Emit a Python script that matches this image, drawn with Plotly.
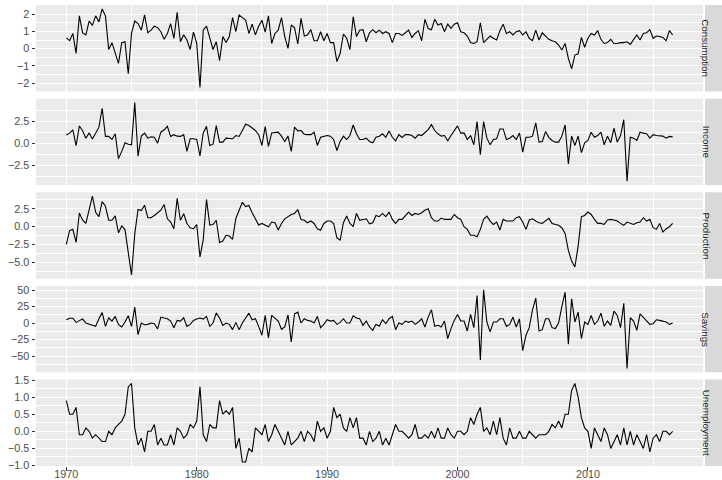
import plotly.graph_objects as go
from plotly.subplots import make_subplots

start_year = 1970
quarters_per_year = 4

consumption = [
    0.62, 0.46, 0.88, -0.27, 1.9, 0.91, 0.8, 1.6, 1.35, 1.9,
    1.55, 2.3, 1.9, -0.05, 0.35, -0.3, -0.85, 0.35, 0.4, -1.45,
    0.9, 1.6, 1.45, 1.07, 1.95, 0.92, 1.07, 1.3, 1.22, 0.98,
    0.55, 0.88, 1.45, 0.6, 2.1, 0.4, 0.8, 0.5, -0.05, 0.96,
    0.3, -2.25, 1.07, 1.3, 0.6, -0.05, 0.4, -0.7, 0.7, 0.35,
    0.7, 1.8, 0.98, 1.95, 1.8, 1.65, 0.88, 1.42, 0.8, 1.3,
    1.65, 0.96, 1.9, 0.3, 0.88, 1.07, 1.8, 0.7, 0.02, 1.37,
    1.22, 0.27, 1.75, 0.73, 0.8, 1.1, 0.46, 0.46, 0.98, 0.46,
    0.88, 0.35, 0.35, -0.75, -0.27, 0.85, 0.6, -0.05, 1.85, 0.7,
    1.07, 1.1, 0.4, 0.92, 1.1, 0.92, 1.07, 0.88, 0.98, 0.88,
    0.35, 0.88, 0.88, 0.77, 0.92, 1.07, 0.65, 0.88, 1.04, 0.46,
    1.7, 1.17, 1.1, 1.7, 1.37, 1.46, 0.98, 1.42, 1.17, 1.42,
    1.5, 0.98, 0.92, 0.73, 0.35, 0.3, 0.4, 1.5, 0.35, 0.54,
    0.73, 0.6, 0.5, 1.04, 1.42, 0.88, 0.98, 0.79, 0.98, 1.04,
    0.79, 0.98, 0.6, 0.46, 1.07, 0.5, 0.92, 0.73, 0.54, 0.46,
    0.4, 0.21, -0.08, 0.3, -0.56, -1.17, -0.37, -0.3, 0.65, 0.08,
    0.6, 0.88, 0.79, 1.04, 0.54, 0.3, 0.35, 0.54, 0.3, 0.3,
    0.35, 0.35, 0.4, 0.25, 0.5, 0.79, 0.5, 0.88, 0.92, 1.1,
    0.6, 0.73, 0.7, 0.65, 0.46, 1.04, 0.79,
]

income = [
    0.97, 1.17, 1.55, -0.26, 1.99, 1.45, 0.6, 1.2, 0.5, 1.1,
    1.85, 4.0, 0.8, 0.8, 0.45, 1.1, -1.73, -0.9, 0.07, -0.1,
    -0.15, 4.65, -1.45, 0.83, 1.17, 0.6, 0.75, 0.7, 0.03, 1.28,
    1.55, 1.95, 0.8, 1.0, 0.83, 0.8, 1.0, -0.9, 0.53, 0.53,
    0.45, -1.43, 1.2, 1.95, -0.23, -0.08, 2.03, 0.15, 0.15, 0.6,
    0.6, 0.53, 0.9, 0.8, 1.47, 2.18, 2.03, 1.73, 1.47, 1.0,
    -0.23, 1.92, -0.34, 1.2, 1.28, 1.28, 0.83, 0.23, 0.83, -0.9,
    1.85, 1.43, 1.47, 1.05, 1.0, 1.0, 1.28, -0.23, 0.7, 0.83,
    0.9, 0.83, 0.45, -0.8, 0.23, 0.83, 0.45, 0.9, 2.1, 1.1,
    0.45, 0.45, 0.6, 0.23, 0.08, 0.7, 0.83, 1.1, 0.7, 1.43,
    0.7, 0.3, 1.0, 0.68, 1.0, 1.0, 0.9, 0.6, 1.0, 0.9,
    1.28, 1.58, 2.14, 1.47, 1.1, 0.83, 0.9, 0.3, 0.9, 1.47,
    2.0, 1.17, 1.2, 0.45, 0.9, -0.15, 2.48, -1.28, 2.48, 0.6,
    -0.15, 0.45, 0.53, 1.65, 1.65, 0.45, 0.6, 0.9, 0.45, 1.2,
    -0.98, 0.7, 0.7, 0.83, 2.33, 0.15, 0.23, 1.35, 0.7, 0.34,
    0.15, 0.15, 0.83, 2.1, -2.33, 0.83, -0.23, 0.83, -1.05, 0.08,
    0.34, 1.28, 0.7, 0.9, 1.28, -0.15, 0.83, 0.08, 1.73, 0.15,
    0.9, 2.7, -4.29, 0.7, 0.6, 0.34, 1.28, 1.17, 1.1, 0.6,
    1.0, 0.9, 0.83, 0.83, 0.6, 0.8, 0.75,
]

production = [
    -2.45, -0.55, -0.36, -2.19, 1.91, 0.9, 0.45, 2.3, 4.25, 2.0,
    1.4, 3.5, 2.85, 0.9, 0.9, 1.5, -0.85, 0.1, -0.4, -3.6,
    -6.7, -1.0, 2.4, 2.25, 3.0, 1.25, 1.25, 1.57, 1.95, 2.3,
    3.1, 1.1, 0.65, -0.28, 3.95, 0.9, 1.8, 0.45, -0.15, -0.28,
    0.3, -4.2, -1.8, 3.8, 0.23, 0.3, 0.9, -2.2, -2.0, -1.2,
    -1.3, -1.75, 1.15, 2.2, 3.4, 2.8, 2.95, 1.95, 1.0, 0.23,
    0.45, 0.23, 0.0, 0.65, 0.55, -0.45, 0.45, 1.1, 1.4, 1.7,
    1.85, 2.4, 1.0, 0.9, 0.55, 0.8, 0.45, -0.28, -0.5, 0.45,
    0.8, 0.8, 0.45, -1.55, -1.85, 0.55, 1.5, 0.45, 0.0, 1.85,
    0.9, 1.0, 1.1, 0.4, 0.55, 1.57, 1.4, 1.85, 1.39, 2.04,
    1.02, 0.46, 1.02, 1.02, 1.48, 2.04, 1.57, 1.85, 1.7, 1.94,
    2.3, 2.5, 1.25, 0.79, 0.79, 1.2, 1.02, 1.02, 1.02, 1.7,
    1.25, 1.02, 0.0, -0.37, -1.2, -1.2, -1.39, -0.37, 1.02, 1.48,
    0.79, 0.32, 0.65, -0.46, 1.02, 0.79, 0.79, 0.79, 1.25, 1.39,
    0.65, -0.37, 0.93, 1.11, 0.79, 0.56, 0.46, 0.83, 1.16, 0.46,
    0.32, 0.19, -0.14, -0.93, -3.3, -4.77, -5.6, -2.7, 1.39, 1.57,
    2.04, 1.7, 1.02, 0.46, 0.46, 0.32, 0.93, 1.02, 0.93, 0.79,
    0.46, 0.19, 0.65, 0.46, 0.32, 0.56, 0.65, 1.25, 0.79, 1.02,
    -0.14, -0.37, 0.46, -0.74, -0.28, 0.0, 0.46,
]

savings = [
    4.8, 7.29, 7.29, 0.99, 3.66, 6.05, 0.0, -2.0, -4.0, -5.0,
    6.5, 16.0, -5.0, 8.0, 3.0, 10.0, -2.0, -6.0, 1.5, 11.0,
    -5.0, 24.0, -17.5, 0.0, -2.5, -2.0, 0.0, -1.0, -9.0, 9.0,
    7.5, 6.5, 3.0, -7.0, 4.0, 3.0, 8.0, -5.0, -2.0, 4.0,
    6.0, 7.5, 6.0, 10.0, -5.0, 0.0, 15.5, 7.5, -3.5, 0.0,
    -2.0, -10.0, 1.0, -10.0, 0.0, 8.0, 15.0, 5.0, 6.5, -5.0,
    -18.5, 11.5, -22.5, 11.5, 7.5, 3.0, -9.5, -6.0, 12.5, -28.5,
    14.0, 16.5, 0.0, 6.5, 4.0, 3.0, 0.0, 10.0, -7.0, -2.0,
    5.0, 3.0, 4.0, -2.0, 1.0, 6.5, 0.0, 0.0, 11.0, 7.5,
    6.5, -3.5, 3.0, -6.0, -11.0, -2.0, -5.0, 5.0, -1.0, 6.5,
    10.0, -10.0, 0.0, -2.0, 3.0, 1.0, 3.0, -2.0, 1.5, 6.5,
    -6.0, 9.0, 20.0, -5.0, -3.5, -6.0, 3.0, -23.5, -8.5, 4.0,
    13.0, 3.0, 3.0, -12.0, 13.0, -7.0, 41.7, -56.0, 50.3, 1.5,
    -13.5, 1.5, 1.5, 6.5, 6.5, -5.0, -2.0, 9.0, -6.0, 6.5,
    -42.0, -18.5, -7.0, 20.0, 37.7, -12.0, -10.0, 6.5, 6.5, -7.0,
    -8.5, 0.0, 25.0, 46.7, -32.0, 36.7, 1.5, 16.5, -23.5, 1.5,
    -2.0, 11.5, -2.0, 3.0, 15.0, -5.0, 3.0, -3.5, 18.0, 11.5,
    -7.0, 30.0, -68.8, 8.0, 3.0, -11.0, 14.0, 9.0, 3.0, -2.0,
    -1.0, 5.0, 4.0, 3.0, 1.5, -2.0, 0.0,
]

unemployment = [
    0.9, 0.5, 0.5, 0.7, -0.1, -0.1, 0.1, 0.0, -0.2, -0.1,
    -0.2, -0.3, -0.3, 0.0, -0.1, 0.1, 0.2, 0.3, 0.5, 1.3,
    1.4, 0.1, -0.4, -0.2, -0.6, 0.0, 0.0, 0.2, -0.4, -0.2,
    -0.4, -0.4, -0.1, -0.4, 0.1, 0.0, -0.2, -0.1, 0.2, 0.1,
    0.3, 1.3, -0.1, -0.3, 0.2, 0.1, 0.1, 0.9, 0.5, 0.6,
    0.5, 0.7, -0.5, -0.2, -0.9, -0.9, -0.5, -0.6, 0.1, 0.0,
    -0.1, 0.2, -0.3, -0.1, 0.2, 0.0, -0.2, -0.4, 0.0, -0.4,
    -0.3, -0.2, 0.0, -0.3, 0.0, -0.1, -0.3, 0.3, 0.0, 0.1,
    -0.2, 0.0, 0.7, 0.4, 0.5, 0.1, 0.0, 0.4, 0.1, 0.4,
    -0.2, -0.2, -0.4, 0.0, -0.3, -0.2, 0.0, -0.4, -0.2, -0.4,
    -0.1, 0.2, 0.0, 0.0, -0.1, -0.2, -0.1, 0.2, -0.2, -0.2,
    -0.1, -0.2, 0.0, -0.2, 0.1, -0.2, -0.2, 0.1, -0.1, -0.2,
    0.0, 0.0, -0.1, 0.0, 0.4, 0.2, 0.5, 0.7, 0.0, 0.1,
    -0.1, 0.3, -0.1, 0.4, -0.2, -0.4, 0.1, -0.2, -0.2, 0.0,
    -0.2, -0.2, 0.0, -0.1, -0.2, -0.1, -0.1, -0.1, 0.0, 0.2,
    0.1, 0.3, 0.1, 0.5, 0.5, 1.2, 1.4, 1.0, 0.4, 0.1,
    0.0, -0.5, 0.1, -0.1, -0.3, 0.1, -0.1, -0.5, -0.3, -0.1,
    -0.4, 0.1, -0.4, 0.0, -0.4, -0.1, -0.3, -0.5, -0.1, -0.6,
    -0.2, -0.1, -0.3, 0.0, 0.0, -0.1, 0.0,
]

series_names = ["Consumption", "Income", "Production", "Savings", "Unemployment"]
series_values = [consumption, income, production, savings, unemployment]

y_major = [
    [-2, -1, 0, 1, 2],
    [-2.5, 0.0, 2.5],
    [-5.0, -2.5, 0.0, 2.5],
    [-50, -25, 0, 25, 50],
    [-1.0, -0.5, 0.0, 0.5, 1.0, 1.5],
]
y_formats = [".0f", ".1f", ".1f", ".0f", ".1f"]

x_major = [1970, 1980, 1990, 2000, 2010]
x_labels = ["1970", "1980", "1990", "2000", "2010"]

n = len(consumption)
time = [start_year + i / quarters_per_year for i in range(n)]

fig = make_subplots(rows=5, cols=1, shared_xaxes=True, vertical_spacing=0.0156)

TICKFONT = dict(family="Liberation Sans, Arial, sans-serif", size=10.8, color="#4D4D4D")

for k, (name, vals) in enumerate(zip(series_names, series_values)):
    row = k + 1
    fig.add_trace(
        go.Scatter(x=time, y=vals, mode="lines",
                   line=dict(color="black", width=1.1), showlegend=False,
                   name=name, hoverinfo="skip"),
        row=row, col=1,
    )
    lo, hi = min(vals), max(vals)
    pad = (hi - lo) * 0.05
    maj = y_major[k]
    step = maj[1] - maj[0]
    minor_vals = [maj[0] - step / 2] + [m + step / 2 for m in maj]
    fig.update_yaxes(
        range=[lo - pad, hi + pad], automargin=False,
        tickmode="array", tickvals=maj, tickformat=y_formats[k],
        ticks="outside", ticklen=3.5, tickwidth=1, tickcolor="#333333",
        tickfont=TICKFONT, showgrid=True, gridcolor="white", gridwidth=1.07,
        zeroline=False, showline=False,
        minor=dict(tickmode="array", tickvals=minor_vals, showgrid=True,
                   gridcolor="white", gridwidth=0.53, ticks=""),
        row=row, col=1,
    )
    x_minor = [v + 5 for v in [1960] + x_major]
    fig.update_xaxes(
        range=[1967.675, 2018.825], automargin=False,
        tickmode="array", tickvals=x_major, ticktext=x_labels,
        ticks="outside" if row == 5 else "", ticklen=3.5, tickwidth=1,
        tickcolor="#333333", tickfont=TICKFONT,
        showticklabels=(row == 5), ticklabelstandoff=-5,
        showgrid=True, gridcolor="white", gridwidth=1.07,
        zeroline=False, showline=False,
        minor=dict(tickmode="array", tickvals=x_minor, showgrid=True,
                   gridcolor="white", gridwidth=0.53, ticks=""),
        row=row, col=1,
    )

# facet strips on the right
left_px, right_px = 36, 703
W = 722
pw = right_px - left_px
sx0 = (705 - left_px) / pw
sx1 = (W - left_px) / pw
sxc = (sx0 + sx1) / 2
for k, name in enumerate(series_names):
    yref = "y domain" if k == 0 else f"y{k + 1} domain"
    fig.add_shape(type="rect", xref="paper", yref=yref, x0=sx0, x1=sx1, y0=0, y1=1,
                  fillcolor="#D9D9D9", line=dict(width=0), layer="above")
    fig.add_annotation(text=name, xref="paper", yref=yref, x=sxc, y=0.5,
                       showarrow=False, textangle=90,
                       font=dict(family="Liberation Sans, Arial, sans-serif",
                                 size=9.8, color="#1A1A1A"))

fig.update_layout(
    width=722, height=480,
    margin=dict(l=left_px, r=W - right_px, t=5, b=14, autoexpand=False),
    plot_bgcolor="#EBEBEB", paper_bgcolor="white",
    showlegend=False, hovermode=False,
)

fig.write_html("out.html", config={"displayModeBar": False},
               post_script="document.body.style.margin='0px';")
